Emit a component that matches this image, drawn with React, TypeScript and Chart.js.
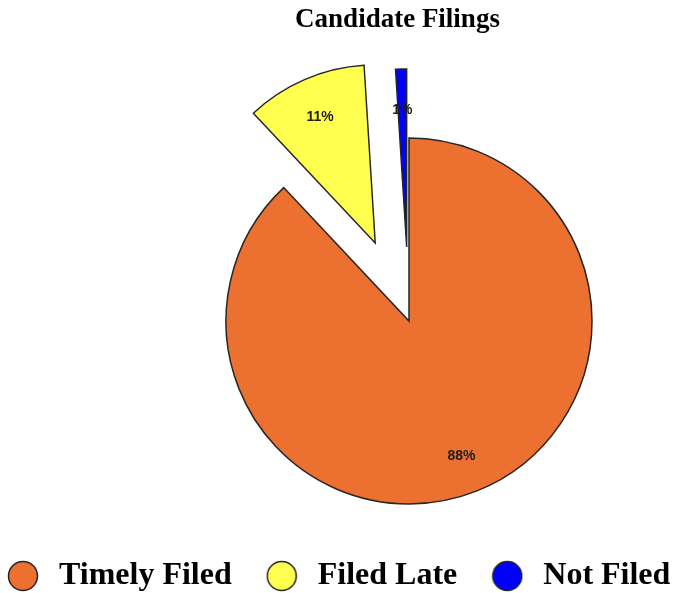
import React, { useEffect, useRef } from 'react';
import { Chart, registerables, layouts } from 'chart.js';

Chart.register(...registerables);

// ---------- data ----------
const TITLE = 'Candidate Filings';
const CATEGORIES = ['Timely Filed', 'Filed Late', 'Not Filed'];
const VALUES = [88, 11, 1];

// ---------- styles ----------
const COLORS = ['#EC7030', '#FFFF50', '#0000FF'];
const BORDER = '#262626';
const EXPLODE_PX = [0, 85, 74];
const EXPLODED_SCALE = 0.973;
const SERIF = '"Liberation Serif", "Times New Roman", Times, serif';
const SANS = '"Liberation Sans", Arial, Helvetica, sans-serif';
const CANVAS_W = 849;
const CANVAS_H = 602;
const CANVAS_LEFT = -27;
const LEFT_SPACER = 23;
const PIE_RADIUS = 183;

function makeDot(color: string): HTMLCanvasElement {
  const c = document.createElement('canvas');
  c.width = 32;
  c.height = 32;
  const g = c.getContext('2d')!;
  g.beginPath();
  g.arc(16, 16, 14.5, 0, Math.PI * 2);
  g.fillStyle = color;
  g.fill();
  g.lineWidth = 1.5;
  g.strokeStyle = BORDER;
  g.stroke();
  return c;
}

const spacerPlugin = {
  id: 'leftSpacer',
  beforeInit(chart: any) {
    layouts.addBox(chart, {
      position: 'left',
      weight: 0,
      fullSize: false,
      options: {},
      left: 0,
      top: 0,
      right: 0,
      bottom: 0,
      width: 0,
      height: 0,
      isHorizontal() {
        return false;
      },
      update(_maxWidth: number, maxHeight: number) {
        (this as any).width = LEFT_SPACER;
        (this as any).height = maxHeight;
      },
      draw() {},
    } as any);
  },
};

const slicePlugin = {
  id: 'explodedSlices',
  beforeDatasetDraw(chart: any, args: any) {
    const ctx = chart.ctx;
    args.meta.data.forEach((arc: any, i: number) => {
      const mid = (arc.startAngle + arc.endAngle) / 2;
      const d = EXPLODE_PX[i] || 0;
      ctx.save();
      if (d > 0) {
        ctx.translate(arc.x + Math.cos(mid) * d, arc.y + Math.sin(mid) * d);
        ctx.scale(EXPLODED_SCALE, EXPLODED_SCALE);
        ctx.translate(-arc.x, -arc.y);
      }
      arc.draw(ctx);
      ctx.restore();
    });
    return false;
  },
  afterDatasetsDraw(chart: any) {
    const ctx = chart.ctx;
    const meta = chart.getDatasetMeta(0);
    const total = VALUES.reduce((a, b) => a + b, 0);
    ctx.save();
    ctx.font = 'bold 14px ' + SANS;
    ctx.fillStyle = '#1e1e1e';
    ctx.textAlign = 'center';
    ctx.textBaseline = 'middle';
    meta.data.forEach((arc: any, i: number) => {
      const mid = (arc.startAngle + arc.endAngle) / 2;
      const d = EXPLODE_PX[i] || 0;
      const s = d > 0 ? EXPLODED_SCALE : 1;
      const r = arc.outerRadius * 0.78 * s + d;
      const txt = Math.round((VALUES[i] / total) * 100) + '%';
      ctx.fillText(txt, arc.x + Math.cos(mid) * r, arc.y + Math.sin(mid) * r + 2);
    });
    ctx.restore();
  },
};

export default function App() {
  const ref = useRef<HTMLCanvasElement>(null);

  useEffect(() => {
    if (!ref.current) return;
    const dots = COLORS.map(makeDot);
    const chart = new Chart(ref.current, {
      type: 'pie',
      data: {
        labels: CATEGORIES,
        datasets: [
          {
            data: VALUES,
            backgroundColor: COLORS,
            borderColor: BORDER,
            borderWidth: 1.5,
            borderJoinStyle: 'miter',
            radius: PIE_RADIUS,
          } as any,
        ],
      },
      options: {
        animation: false,
        responsive: false,
        events: [],
        layout: { padding: 0 },
        plugins: {
          title: {
            display: true,
            text: TITLE,
            color: '#000',
            font: { family: SERIF, size: 27, weight: 'bold' },
            padding: { top: 4, bottom: 75.6 },
          },
          legend: {
            display: true,
            position: 'bottom',
            align: 'start',
            labels: {
              usePointStyle: true,
              pointStyleWidth: 40,
              padding: 30,
              color: '#000',
              font: { family: SERIF, size: 32, weight: 'bold' },
              generateLabels: () =>
                CATEGORIES.map((text, i) => ({
                  text,
                  fillStyle: COLORS[i],
                  strokeStyle: BORDER,
                  lineWidth: 1.5,
                  pointStyle: dots[i],
                  hidden: false,
                  index: i,
                  fontColor: '#000',
                })) as any,
            },
          },
          tooltip: { enabled: false },
        },
      } as any,
      plugins: [spacerPlugin, slicePlugin] as any,
    });
    return () => chart.destroy();
  }, []);

  return (
    <div
      style={{
        position: 'fixed',
        left: 0,
        top: 0,
        width: 675,
        height: 593,
        overflow: 'hidden',
        background: '#fff',
      }}
    >
      <canvas
        ref={ref}
        width={CANVAS_W}
        height={CANVAS_H}
        style={{ position: 'absolute', left: CANVAS_LEFT, top: 0, width: CANVAS_W, height: CANVAS_H, display: 'block' }}
      />
    </div>
  );
}
